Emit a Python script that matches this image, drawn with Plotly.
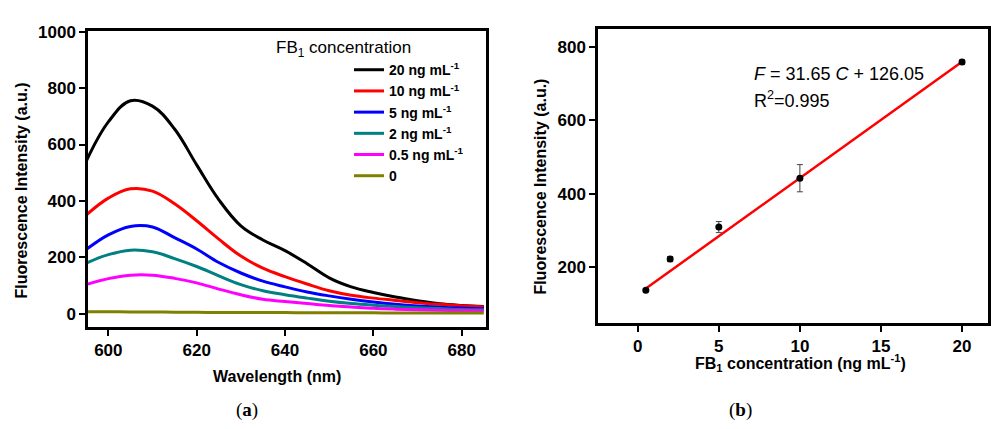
import plotly.graph_objects as go

# ---------------- data ----------------
wavelength = [595, 600, 605, 610, 615, 620, 625, 630, 635, 640, 645, 650, 655, 660, 665, 670, 675, 680, 685]
i_20 = [541, 680, 755, 736, 655, 528, 405, 312, 262, 224, 178, 128, 96, 76, 60, 47, 36, 30, 26]
i_10 = [350, 410, 443, 435, 390, 330, 265, 205, 162, 132, 106, 82, 66, 56, 48, 40, 34, 29, 25]
i_5 = [228, 280, 310, 308, 270, 230, 182, 145, 116, 96, 78, 64, 52, 42, 34, 28, 24, 21, 19]
i_2 = [180, 210, 226, 220, 196, 168, 135, 104, 82, 68, 56, 45, 37, 31, 26, 22, 19, 16, 15]
i_05 = [104, 125, 137, 137, 126, 110, 88, 68, 52, 44, 37, 30, 25, 20, 17, 15, 13, 12, 11]
i_0 = [8, 8, 7, 7, 6, 6, 5, 5, 5, 5, 4, 4, 4, 4, 3, 3, 3, 3, 3]
series_labels = ["20 ng mL<sup>-1</sup>", "10 ng mL<sup>-1</sup>", "5 ng mL<sup>-1</sup>",
                 "2 ng mL<sup>-1</sup>", "0.5 ng mL<sup>-1</sup>", "0"]
series_colors = ["#000000", "#FF0000", "#0000FF", "#008080", "#FF00FF", "#808000"]

conc = [0.5, 2, 5, 10, 20]
intensity = [137, 222, 309, 442, 758]
intensity_err = [4, 7, 15, 37, 6]
slope, intercept = 31.65, 126.05

# ---------------- figure ----------------
W, H = 993, 429
def px(x):
    return x / W
def py(y):
    return 1 - y / H

FONT = "Arial, Liberation Sans, sans-serif"
fig = go.Figure()

for vals, lab, col in zip([i_20, i_10, i_5, i_2, i_05, i_0], series_labels, series_colors):
    fig.add_trace(go.Scatter(x=wavelength, y=vals, mode="lines", name=lab,
                             line=dict(color=col, width=3, shape="spline", smoothing=1.1),
                             xaxis="x", yaxis="y"))

fit_x = [conc[0], conc[-1]]
fit_y = [slope * c + intercept for c in fit_x]
fig.add_trace(go.Scatter(x=fit_x, y=fit_y, mode="lines", line=dict(color="#FF0000", width=2.5),
                         showlegend=False, xaxis="x2", yaxis="y2"))
fig.add_trace(go.Scatter(x=conc, y=intensity, mode="markers",
                         marker=dict(color="black", size=7),
                         error_y=dict(type="data", array=intensity_err, color="#444444", thickness=1, width=3),
                         showlegend=False, xaxis="x2", yaxis="y2"))

axis_common = dict(showline=True, linewidth=2.5, linecolor="black", mirror=True,
                   ticks="outside", ticklen=6, tickwidth=2, tickcolor="black",
                   showgrid=False, zeroline=False,
                   tickfont=dict(family=FONT, size=17, color="black", weight="bold"))

fig.update_layout(
    width=W, height=H, autosize=False,
    margin=dict(l=0, r=0, t=0, b=0),
    paper_bgcolor="white", plot_bgcolor="white",
    xaxis=dict(domain=[px(88), px(486)], range=[595.4, 685.5], tickvals=[600, 620, 640, 660, 680],
               anchor="y", **axis_common),
    yaxis=dict(domain=[py(325), py(23)], range=[-46, 1003.5], tickvals=[0, 200, 400, 600, 800, 1000],
               anchor="x", **axis_common),
    xaxis2=dict(domain=[px(598), px(988)], range=[-2.45, 21.6], tickvals=[0, 5, 10, 15, 20],
                anchor="y2", **axis_common),
    yaxis2=dict(domain=[py(321), py(21)], range=[48, 849], tickvals=[200, 400, 600, 800],
                anchor="x2", **axis_common),
    legend=dict(x=px(349), y=py(47), xanchor="left", yanchor="top", bgcolor="rgba(0,0,0,0)",
                font=dict(family=FONT, size=14, color="black", weight="bold"),
                itemwidth=30, tracegroupgap=0),
    showlegend=True,
)

def ann(x, y, text, size, bold=False, angle=0, family=FONT, xanchor="center"):
    fig.add_annotation(x=px(x), y=py(y), xref="paper", yref="paper", text=text, showarrow=False,
                       textangle=angle, xanchor=xanchor, yanchor="middle",
                       font=dict(family=family, size=size, color="black", weight="bold" if bold else "normal"))

ann(274, 42, "FB<sub>1</sub> concentration", 17, xanchor="left")
ann(277, 376, "Wavelength (nm)", 16, bold=True)
ann(22, 186, "Fluorescence Intensity (a.u.)", 16, bold=True, angle=-90)
ann(541, 182, "Fluorescence Intensity (a.u.)", 16, bold=True, angle=-90)
ann(800, 362, "FB<sub>1</sub> concentration (ng mL<sup>-1</sup>)", 16, bold=True)
ann(752, 67, "<i>F</i> = 31.65 <i>C</i> + 126.05", 18, xanchor="left")
ann(752, 93, "R<sup>2</sup>=0.995", 18, xanchor="left")
ann(247, 410, "(<b>a</b>)", 19, family="Liberation Serif, serif")
ann(740, 410, "(<b>b</b>)", 19, family="Liberation Serif, serif")

fig.write_html("out.html", config={"displayModeBar": False},
               post_script="document.body.style.margin='0';document.body.style.overflow='hidden';")
